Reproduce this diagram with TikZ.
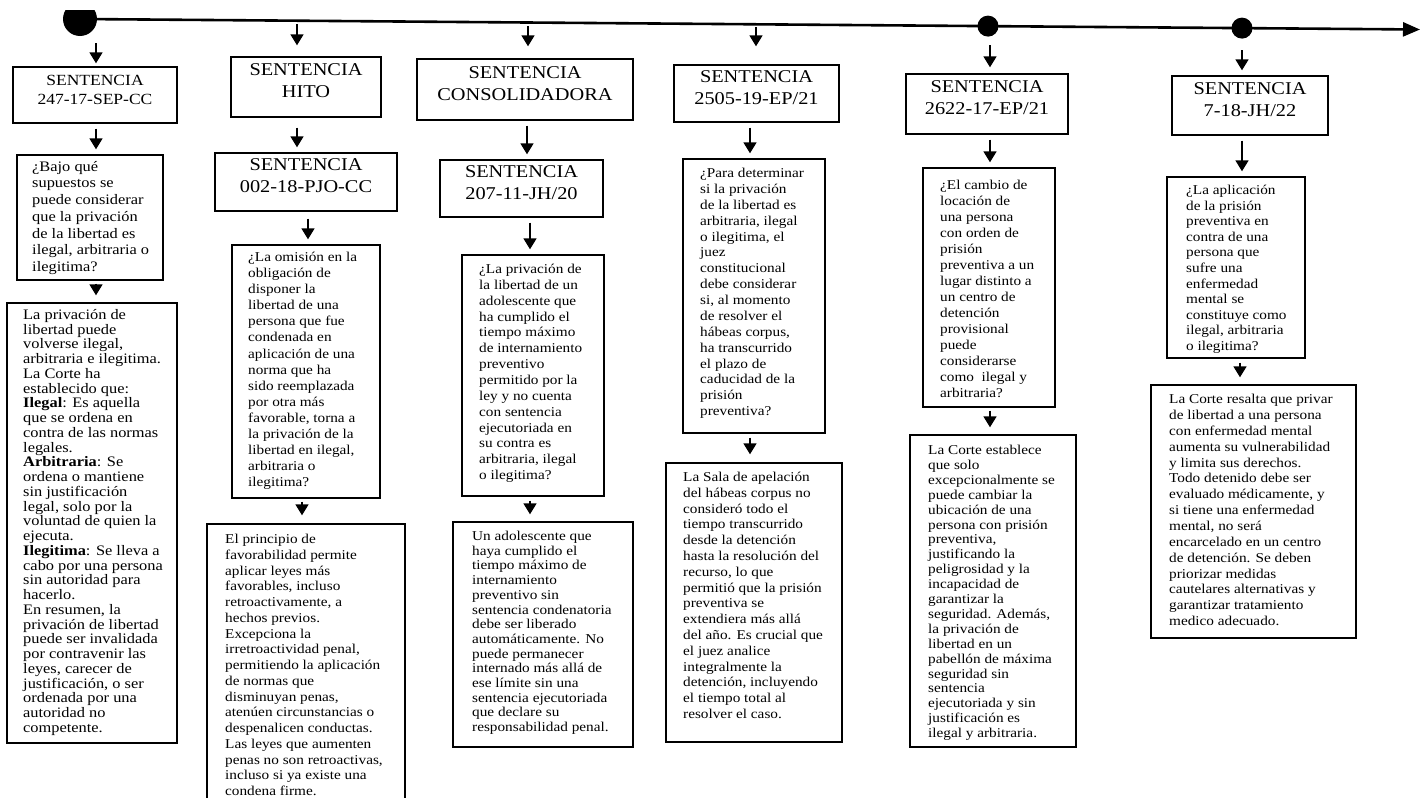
\documentclass[tikz,border=0pt]{standalone}
\usepackage{fontspec}
\setmainfont{Liberation Serif}[FakeStretch=1.13]
\usetikzlibrary{arrows.meta,fit}
\begin{document}
\begin{tikzpicture}[x=1pt,y=-1pt,
  box/.style={draw, line width=1.4pt, inner sep=0pt},
  head/.style={box, align=center, font={\fontsize{18}{22}\selectfont}},
  txt/.style={anchor=north west, inner sep=0pt, align=left, font={\fontsize{13.5}{#1}\selectfont}},
  txtb/.style={anchor=north west, inner sep=0pt, align=left, font={\fontsize{14.5}{#1}\selectfont}},
  arr/.style={line width=1.7pt, -{Triangle[length=11pt,width=13pt]}, shorten >=5pt, shorten <=5pt},
  tl/.style={line width=2.6pt, -{Triangle[length=17pt,width=14pt]}},
  dot/.style={circle, fill=black, inner sep=0pt, minimum size=#1},
]
\useasboundingbox (0,0) rectangle (1425,798);
\begin{scope}
\clip (0,0) rectangle (1425,798);

% ---------- timeline ----------
\begin{scope}
\clip (40,10) rectangle (120,60);
\node[dot=34pt] (d0) at (80,19) {};
\end{scope}
\coordinate (tlend) at (1420,29.5);
\draw[tl] (d0.center) -- (tlend);
\node[dot=21pt] (d5) at (988,26.1) {};
\node[dot=21pt] (d6) at (1242,28.1) {};

% ---------- headers ----------
\node[head, font={\fontsize{15.5}{19}\selectfont}, fit={(13,67) (177,123)}] (h1) {SENTENCIA\\247-17-SEP-CC};
\node[head, fit={(231,57) (381,117)}] (h2a) {SENTENCIA\\HITO};
\node[head, fit={(215,153) (397,211)}] (h2b) {SENTENCIA\\002-18-PJO-CC};
\node[head, fit={(417,59) (633,120)}] (h3a) {SENTENCIA\\CONSOLIDADORA};
\node[head, fit={(440,160) (603,217)}] (h3b) {SENTENCIA\\207-11-JH/20};
\node[head, fit={(674,65) (839,122)}] (h4) {SENTENCIA\\2505-19-EP/21};
\node[head, fit={(906,74) (1068,134)}] (h5) {SENTENCIA\\2622-17-EP/21};
\node[head, fit={(1172,76) (1328,135)}] (h6) {SENTENCIA\\7-18-JH/22};

% ---------- question boxes ----------
\node[box, fit={(17,155) (163,280)}] (q1) {};
\node[box, fit={(232,245) (380,498)}] (q2) {};
\node[box, fit={(462,255) (604,496)}] (q3) {};
\node[box, fit={(683,159) (825,433)}] (q4) {};
\node[box, fit={(923,168) (1055,407)}] (q5) {};
\node[box, fit={(1167,177) (1305,358)}] (q6) {};

% ---------- answer boxes ----------
\node[box, fit={(7,303) (177,743)}] (a1) {};
\node[box, fit={(207,524) (405,815)}] (a2) {};
\node[box, fit={(453,522) (633,747)}] (a3) {};
\node[box, fit={(666,463) (842,742)}] (a4) {};
\node[box, fit={(910,435) (1076,747)}] (a5) {};
\node[box, fit={(1151,385) (1356,638)}] (a6) {};

% ---------- texts ----------
\node[txtb=16.7] (q1t) at (32,161) {¿Bajo qué\\supuestos se\\puede considerar\\que la privación\\de la libertad es\\ilegal, arbitraria o\\ilegitima?};
\node[txtb=14.75] (a1t) at (23,309) {La privación de\\libertad puede\\volverse ilegal,\\arbitraria e ilegitima.\\La Corte ha\\establecido que:\\\textbf{Ilegal}: Es aquella\\que se ordena en\\contra de las normas\\legales.\\\textbf{Arbitraria}: Se\\ordena o mantiene\\sin justificación\\legal, solo por la\\voluntad de quien la\\ejecuta.\\\textbf{Ilegitima}: Se lleva a\\cabo por una persona\\sin autoridad para\\hacerlo.\\En resumen, la\\privación de libertad\\puede ser invalidada\\por contravenir las\\leyes, carecer de\\justificación, o ser\\ordenada por una\\autoridad no\\competente.};
\node[txt=16.07] (q2t) at (248,252) {¿La omisión en la\\obligación de\\disponer la\\libertad de una\\persona que fue\\condenada en\\aplicación de una\\norma que ha\\sido reemplazada\\por otra más\\favorable, torna a\\la privación de la\\libertad en ilegal,\\arbitraria o\\ilegitima?};
\node[txt=15.75] (a2t) at (225,534) {El principio de\\favorabilidad permite\\aplicar leyes más\\favorables, incluso\\retroactivamente, a\\hechos previos.\\Excepciona la\\irretroactividad penal,\\permitiendo la aplicación\\de normas que\\disminuyan penas,\\atenúen circunstancias o\\despenalicen conductas.\\Las leyes que aumenten\\penas no son retroactivas,\\incluso si ya existe una\\condena firme.};
\node[txt=15.85] (q3t) at (479,264) {¿La privación de\\la libertad de un\\adolescente que\\ha cumplido el\\tiempo máximo\\de internamiento\\preventivo\\permitido por la\\ley y no cuenta\\con sentencia\\ejecutoriada en\\su contra es\\arbitraria, ilegal\\o ilegitima?};
\node[txt=14.7] (a3t) at (472,531) {Un adolescente que\\haya cumplido el\\tiempo máximo de\\internamiento\\preventivo sin\\sentencia condenatoria\\debe ser liberado\\automáticamente. No\\puede permanecer\\internado más allá de\\ese límite sin una\\sentencia ejecutoriada\\que declare su\\responsabilidad penal.};
\node[txt=15.87] (q4t) at (700,168) {¿Para determinar\\si la privación\\de la libertad es\\arbitraria, ilegal\\o ilegitima, el\\juez\\constitucional\\debe considerar\\si, al momento\\de resolver el\\hábeas corpus,\\ha transcurrido\\el plazo de\\caducidad de la\\prisión\\preventiva?};
\node[txt=15.8] (a4t) at (683,472) {La Sala de apelación\\del hábeas corpus no\\consideró todo el\\tiempo transcurrido\\desde la detención\\hasta la resolución del\\recurso, lo que\\permitió que la prisión\\preventiva se\\extendiera más allá\\del año. Es crucial que\\el juez analice\\integralmente la\\detención, incluyendo\\el tiempo total al\\resolver el caso.};
\node[txt=16] (q5t) at (940,180) {¿El cambio de\\locación de\\una persona\\con orden de\\prisión\\preventiva a un\\lugar distinto a\\un centro de\\detención\\provisional\\puede\\considerarse\\como\ \ ilegal y\\arbitraria?};
\node[txt=14.9] (a5t) at (928,445) {La Corte establece\\que solo\\excepcionalmente se\\puede cambiar la\\ubicación de una\\persona con prisión\\preventiva,\\justificando la\\peligrosidad y la\\incapacidad de\\garantizar la\\seguridad. Además,\\la privación de\\libertad en un\\pabellón de máxima\\seguridad sin\\sentencia\\ejecutoriada y sin\\justificación es\\ilegal y arbitraria.};
\node[txt=15.6] (q6t) at (1186,185) {¿La aplicación\\de la prisión\\preventiva en\\contra de una\\persona que\\sufre una\\enfermedad\\mental se\\constituye como\\ilegal, arbitraria\\o ilegitima?};
\node[txt=15.86] (a6t) at (1169,394) {La Corte resalta que privar\\de libertad a una persona\\con enfermedad mental\\aumenta su vulnerabilidad\\y limita sus derechos.\\Todo detenido debe ser\\evaluado médicamente, y\\si tiene una enfermedad\\mental, no será\\encarcelado en un centro\\de detención. Se deben\\priorizar medidas\\cautelares alternativas y\\garantizar tratamiento\\medico adecuado.};

% ---------- arrows from the timeline ----------
\coordinate (s1) at (96,43);
\coordinate (s2) at (297,24);
\coordinate (s3) at (528,26);
\coordinate (s4) at (756,27);
\coordinate (s5) at (990,45);
\coordinate (s6) at (1242,50);
\draw[arr, shorten <=0pt, shorten >=3pt] (s1) -- (s1 |- h1.north);
\draw[arr, shorten <=0pt, shorten >=11pt] (s2) -- (s2 |- h2a.north);
\draw[arr, shorten <=0pt, shorten >=12pt] (s3) -- (s3 |- h3a.north);
\draw[arr, shorten <=0pt, shorten >=18pt] (s4) -- (s4 |- h4.north);
\draw[arr, shorten <=0pt, shorten >=6pt] (s5) -- (s5 |- h5.north);
\draw[arr, shorten <=0pt, shorten >=5pt] (s6) -- (s6 |- h6.north);

% ---------- arrows between boxes ----------
\coordinate (x1) at (96,0);
\coordinate (x2a) at (297,0);
\coordinate (x2b) at (308,0);
\coordinate (x2c) at (302,0);
\coordinate (x3a) at (527,0);
\coordinate (x3b) at (530,0);
\coordinate (x4) at (750,0);
\coordinate (x5) at (990,0);
\coordinate (x6a) at (1242,0);
\coordinate (x6b) at (1240,0);
\draw[arr] (h1.south -| x1) -- (q1.north -| x1);
\draw[arr, shorten <=3pt, shorten >=7pt] (q1.south -| x1) -- (a1.north -| x1);
\draw[arr, shorten <=10pt, shorten >=5pt] (h2a.south -| x2a) -- (h2b.north -| x2a);
\draw[arr, shorten <=7pt] (h2b.south -| x2b) -- (q2.north -| x2b);
\draw[arr, shorten <=3pt, shorten >=8pt] (q2.south -| x2c) -- (a2.north -| x2c);
\draw[arr] (h3a.south -| x3a) -- (h3b.north -| x3a);
\draw[arr] (h3b.south -| x3b) -- (q3.north -| x3b);
\draw[arr, shorten <=4pt, shorten >=7pt] (q3.south -| x3b) -- (a3.north -| x3b);
\draw[arr] (h4.south -| x4) -- (q4.north -| x4);
\draw[arr, shorten <=4pt, shorten >=8pt] (q4.south -| x4) -- (a4.north -| x4);
\draw[arr] (h5.south -| x5) -- (q5.north -| x5);
\draw[arr, shorten <=3pt, shorten >=7pt] (q5.south -| x5) -- (a5.north -| x5);
\draw[arr] (h6.south -| x6a) -- (q6.north -| x6a);
\draw[arr, shorten <=4pt, shorten >=7pt] (q6.south -| x6b) -- (a6.north -| x6b);
\end{scope}
\end{tikzpicture}
\end{document}
